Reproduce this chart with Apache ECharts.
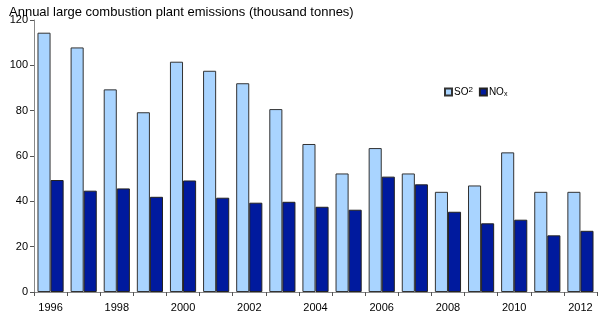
<!DOCTYPE html>
<html><head><meta charset="utf-8">
<script src="https://cdn.jsdelivr.net/npm/echarts@6/dist/echarts.min.js"></script>
<style>html,body{margin:0;padding:0;background:#fff}#c{width:600px;height:321px}</style>
</head><body><div id="c"></div>
<script>
const years = ['1996','1997','1998','1999','2000','2001','2002','2003','2004','2005','2006','2007','2008','2009','2010','2011','2012'];
const so2 = [114.4,107.9,89.4,79.3,101.6,97.6,92.1,80.7,65.3,52.3,63.5,52.3,44.2,47.0,61.6,44.2,44.2];
const nox = [49.4,44.7,45.7,42.0,49.2,41.6,39.4,39.8,37.6,36.3,50.9,47.5,35.4,30.3,31.9,25.0,27.0];
const yTicks = [0,20,40,60,80,100,120];
const titleText = 'Annual large combustion plant emissions (thousand tonnes)';

const chart = echarts.init(document.getElementById('c'));
const font = 'Liberation Sans, Arial, sans-serif';
chart.setOption({
  animation: false,
  textStyle: {fontFamily: font},
  title: {text: titleText, left: 4, top: 1, textStyle: {fontFamily: font, fontSize: 13, fontWeight: 'normal', color: '#000'}},
  legend: {
    left: 439, top: 81, itemWidth: 7, itemHeight: 7, itemGap: 6,
    icon: 'rect',
    textStyle: {fontFamily: font, fontSize: 10, color: '#000', padding: [0,0,0,-3],
      rich: {b: {fontSize: 10, fontFamily: font}, sup: {fontSize: 8, verticalAlign: 'top', padding: [0,0,4,0], fontFamily: font}, sub: {fontSize: 7, padding: [5,0,0,0], fontFamily: font}}},
    formatter: function(n){ return n === 'SO2' ? '{b|SO}{sup|2}' : '{b|NO}{sub|x}'; },
    data: ['SO2','NOx']
  },
  grid: {left: 34, right: 3, top: 20, bottom: 29},
  xAxis: {
    type: 'category', data: years,
    axisLine: {lineStyle: {color: '#888', width: 1}},
    axisTick: {show: true, alignWithLabel: false, interval: 0, length: 4, lineStyle: {color: '#555'}},
    axisLabel: {interval: 1, color: '#000', fontSize: 11, fontFamily: font, margin: 10}
  },
  yAxis: {
    type: 'value', min: yTicks[0], max: yTicks[yTicks.length-1], interval: 20,
    splitLine: {show: false},
    axisLine: {show: true, lineStyle: {color: '#888'}},
    axisTick: {show: true, length: 4, lineStyle: {color: '#555'}},
    axisLabel: {color: '#000', fontSize: 11, fontFamily: font, margin: 6}
  },
  series: [
    {name: 'SO2', type: 'bar', data: so2, barGap: '0%', barCategoryGap: '21%',
     itemStyle: {color: '#A9D4FF', borderColor: '#333', borderWidth: 1}},
    {name: 'NOx', type: 'bar', data: nox, barGap: '0%', barCategoryGap: '21%',
     itemStyle: {color: '#001A9E', borderColor: '#222', borderWidth: 1}}
  ]
});
</script></body></html>
